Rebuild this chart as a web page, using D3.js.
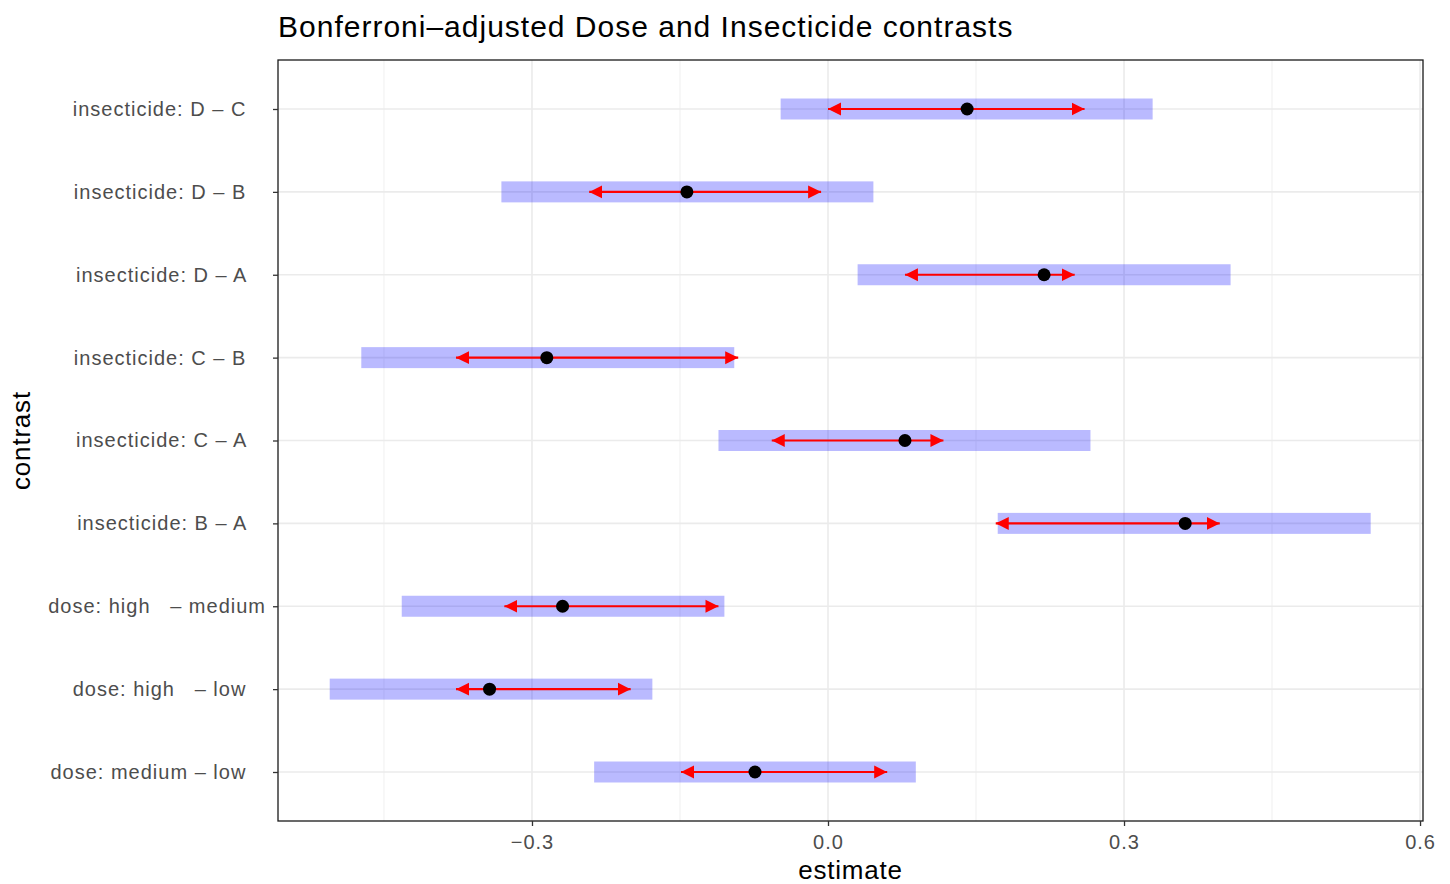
<!DOCTYPE html>
<html>
<head>
<meta charset="utf-8">
<script src="https://cdn.jsdelivr.net/npm/d3@7"></script>
<style>
  body { margin: 0; background: #fff; }
  text { font-family: "Liberation Sans", Arial, sans-serif; }
</style>
</head>
<body>
<script>
// DATA
var contrasts = [
  "insecticide: D \u2013 C   ",
  "insecticide: D \u2013 B   ",
  "insecticide: D \u2013 A   ",
  "insecticide: C \u2013 B   ",
  "insecticide: C \u2013 A   ",
  "insecticide: B \u2013 A   ",
  "dose: high   \u2013 medium",
  "dose: high   \u2013 low   ",
  "dose: medium \u2013 low   "
];
var estimates = [0.141, -0.143, 0.219, -0.285, 0.078, 0.362, -0.269, -0.343, -0.074];
var ciLower  = [-0.048, -0.331, 0.030, -0.473, -0.111, 0.172, -0.432, -0.505, -0.237];
var ciUpper  = [0.329, 0.046, 0.408, -0.095, 0.266, 0.550, -0.105, -0.178, 0.089];
var cmpLower = [0.000, -0.242, 0.078, -0.377, -0.057, 0.170, -0.328, -0.377, -0.149];
var cmpUpper = [0.260, -0.007, 0.250, -0.091, 0.117, 0.397, -0.111, -0.200, 0.060];
var xTicks = [-0.3, 0.0, 0.3, 0.6];
var xMinor = [-0.45, -0.15, 0.15, 0.45];

var data = contrasts.map(function (c, i) {
  return { label: c, est: estimates[i], lo: ciLower[i], hi: ciUpper[i], clo: cmpLower[i], chi: cmpUpper[i] };
});

var W = 1450, H = 884;
var margin = { top: 60, right: 27, bottom: 63, left: 278 },
    width = W - margin.left - margin.right,
    height = H - margin.top - margin.bottom;

var root = d3.select("body").append("svg")
    .attr("width", W)
    .attr("height", H);

var svg = root.append("g")
    .attr("transform", "translate(" + margin.left + "," + margin.top + ")");

var x = d3.scaleLinear()
    .domain([-0.5574, 0.603])
    .range([0, width]);

var y = d3.scalePoint()
    .domain(contrasts)
    .range([49, height - 49]);

// grid
svg.selectAll(".minor").data(xMinor).enter().append("line")
    .attr("x1", d => x(d)).attr("x2", d => x(d))
    .attr("y1", 0).attr("y2", height)
    .attr("stroke", "#ebebeb").attr("stroke-width", 0.8);
svg.selectAll(".major").data(xTicks).enter().append("line")
    .attr("x1", d => x(d)).attr("x2", d => x(d))
    .attr("y1", 0).attr("y2", height)
    .attr("stroke", "#ebebeb").attr("stroke-width", 1.6);
svg.selectAll(".hgrid").data(contrasts).enter().append("line")
    .attr("x1", 0).attr("x2", width)
    .attr("y1", d => y(d)).attr("y2", d => y(d))
    .attr("stroke", "#ebebeb").attr("stroke-width", 1.6);

// confidence bars
svg.selectAll(".ci").data(data).enter().append("rect")
    .attr("x", d => x(d.lo))
    .attr("width", d => x(d.hi) - x(d.lo))
    .attr("y", d => y(d.label) - 10.5)
    .attr("height", 21)
    .attr("fill", "#0000ff")
    .attr("fill-opacity", 0.27);

// comparison arrows
var defs = root.append("defs");
defs.append("marker")
    .attr("id", "arrow")
    .attr("viewBox", "0 0 10 10")
    .attr("refX", 10).attr("refY", 5)
    .attr("markerUnits", "userSpaceOnUse")
    .attr("markerWidth", 13).attr("markerHeight", 15)
    .attr("orient", "auto-start-reverse")
    .append("path")
    .attr("d", "M0,0 L10,5 L0,10 Z")
    .attr("fill", "#ff0000");

svg.selectAll(".cmp").data(data).enter().append("line")
    .attr("x1", d => x(d.clo)).attr("x2", d => x(d.chi))
    .attr("y1", d => y(d.label)).attr("y2", d => y(d.label))
    .attr("stroke", "#ff0000")
    .attr("stroke-width", 2.2)
    .attr("marker-start", "url(#arrow)")
    .attr("marker-end", "url(#arrow)");

// estimates
svg.selectAll(".dot").data(data).enter().append("circle")
    .attr("cx", d => x(d.est))
    .attr("cy", d => y(d.label))
    .attr("r", 6.5)
    .attr("fill", "#000");

// panel border
svg.append("rect")
    .attr("width", width).attr("height", height)
    .attr("fill", "none").attr("stroke", "#1a1a1a").attr("stroke-width", 1.3);

// x axis
var xAxis = svg.append("g")
    .attr("transform", "translate(0," + height + ")")
    .call(d3.axisBottom(x).tickValues(xTicks).tickSize(5).tickPadding(9)
      .tickFormat(d => d3.format(".1f")(d).replace("-", "\u2013")));
xAxis.select(".domain").remove();
xAxis.selectAll(".tick line").attr("stroke", "#333").attr("stroke-width", 1.3);
xAxis.selectAll(".tick text")
    .attr("fill", "#4d4d4d")
    .style("font-size", "20px")
    .style("letter-spacing", "1px");

// y axis
var yAxis = svg.append("g")
    .call(d3.axisLeft(y).tickSize(5).tickPadding(7));
yAxis.select(".domain").remove();
yAxis.selectAll(".tick line").attr("stroke", "#333").attr("stroke-width", 1.3);
yAxis.selectAll(".tick text")
    .attr("fill", "#4d4d4d")
    .style("font-size", "20px")
    .style("letter-spacing", "1px")
    .style("white-space", "pre")
    .attr("xml:space", "preserve");

// titles
root.append("text")
    .attr("x", margin.left).attr("y", 37)
    .style("font-size", "30px").style("letter-spacing", "1px").attr("fill", "#000")
    .text("Bonferroni\u2013adjusted Dose and Insecticide contrasts");

root.append("text")
    .attr("x", margin.left + width / 2).attr("y", 879)
    .attr("text-anchor", "middle")
    .style("font-size", "26px").style("letter-spacing", "0.8px").attr("fill", "#000")
    .text("estimate");

root.append("text")
    .attr("transform", "translate(30," + (margin.top + height / 2) + ") rotate(-90)")
    .attr("text-anchor", "middle")
    .style("font-size", "26px").style("letter-spacing", "0.8px").attr("fill", "#000")
    .text("contrast");
</script>
</body>
</html>
